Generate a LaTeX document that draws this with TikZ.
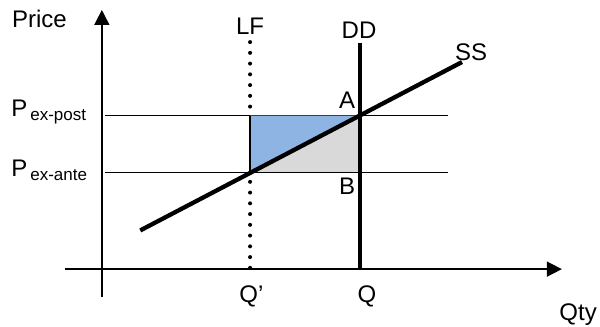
\documentclass[tikz,border=0pt]{standalone}
\usepackage{fontspec}
\setmainfont{Liberation Sans}
\usetikzlibrary{arrows.meta,calc}
\definecolor{gainblue}{RGB}{141,180,226}
\definecolor{lossgray}{RGB}{217,217,217}
\newcommand{\Plevel}[1]{P\kern3pt\raisebox{-4.5pt}{\fontsize{17}{20}\selectfont #1}}

\begin{document}
\begin{tikzpicture}[scale=1.0, every node/.style={font=\fontsize{24}{28}\selectfont, inner sep=0pt}]
\useasboundingbox (0,0) rectangle (21.09,11.46);
% key points
\coordinate (a) at (12.65,7.40);
\coordinate (b) at (12.65,5.38);
\coordinate (qp) at (8.79,5.38);
\coordinate (qpup) at (8.79,7.40);
% shaded areas
\fill[gainblue] (qp) -- (qpup) -- (a) -- cycle;
\fill[lossgray] (qp) -- (b) -- (a) -- cycle;
% price levels
\draw[line width=1pt] (3.69,7.40) -- (15.75,7.40);
\draw[line width=1pt] (3.69,5.38) -- (15.75,5.38);
% axes
\draw[line width=1.6pt, -{Triangle[length=15pt,width=15pt]}] (3.58,1.02) -- (3.58,11.11);
\draw[line width=1.6pt, -{Triangle[length=15pt,width=15pt]}] (2.28,2.0) -- (19.75,2.0);
% LF, DD and SS
\draw[line width=4pt, line cap=round, dash pattern=on 0pt off 10.75pt] (8.79,9.98) -- (8.79,2.0);
\fill[white] ($(qp)+(-0.06,0.02)$) rectangle ($(qpup)+(0.06,-0.02)$);
\fill[gainblue] (qp) -- (qpup) -- (a) -- cycle;
\draw[line width=2pt] (qp) -- (qpup);
\draw[line width=4.3pt] (12.65,9.95) -- (12.65,2.0);
\draw[line width=4.3pt] ($(qp)!-1!(a)$) -- ($(qp)!1.93!(a)$);
% labels
\node[anchor=base west] at (0.42,10.51) {Price};
\node[anchor=base west] at (0.39,7.38) {\Plevel{ex-post}};
\node[anchor=base west] at (0.39,5.27) {\Plevel{ex-ante}};
\node[anchor=base] at (8.79,10.23) {LF};
\node[anchor=base] at (12.62,10.12) {DD};
\node[anchor=base] at (16.56,9.35) {SS};
\node[anchor=base] at (12.2,7.63) {A};
\node[anchor=base] at (12.2,4.64) {B};
\node[anchor=base] at (8.84,0.84) {Q’};
\node[anchor=base] at (12.9,0.84) {Q};
\node[anchor=base] at (20.32,0.21) {Qty};
\end{tikzpicture}
\end{document}
